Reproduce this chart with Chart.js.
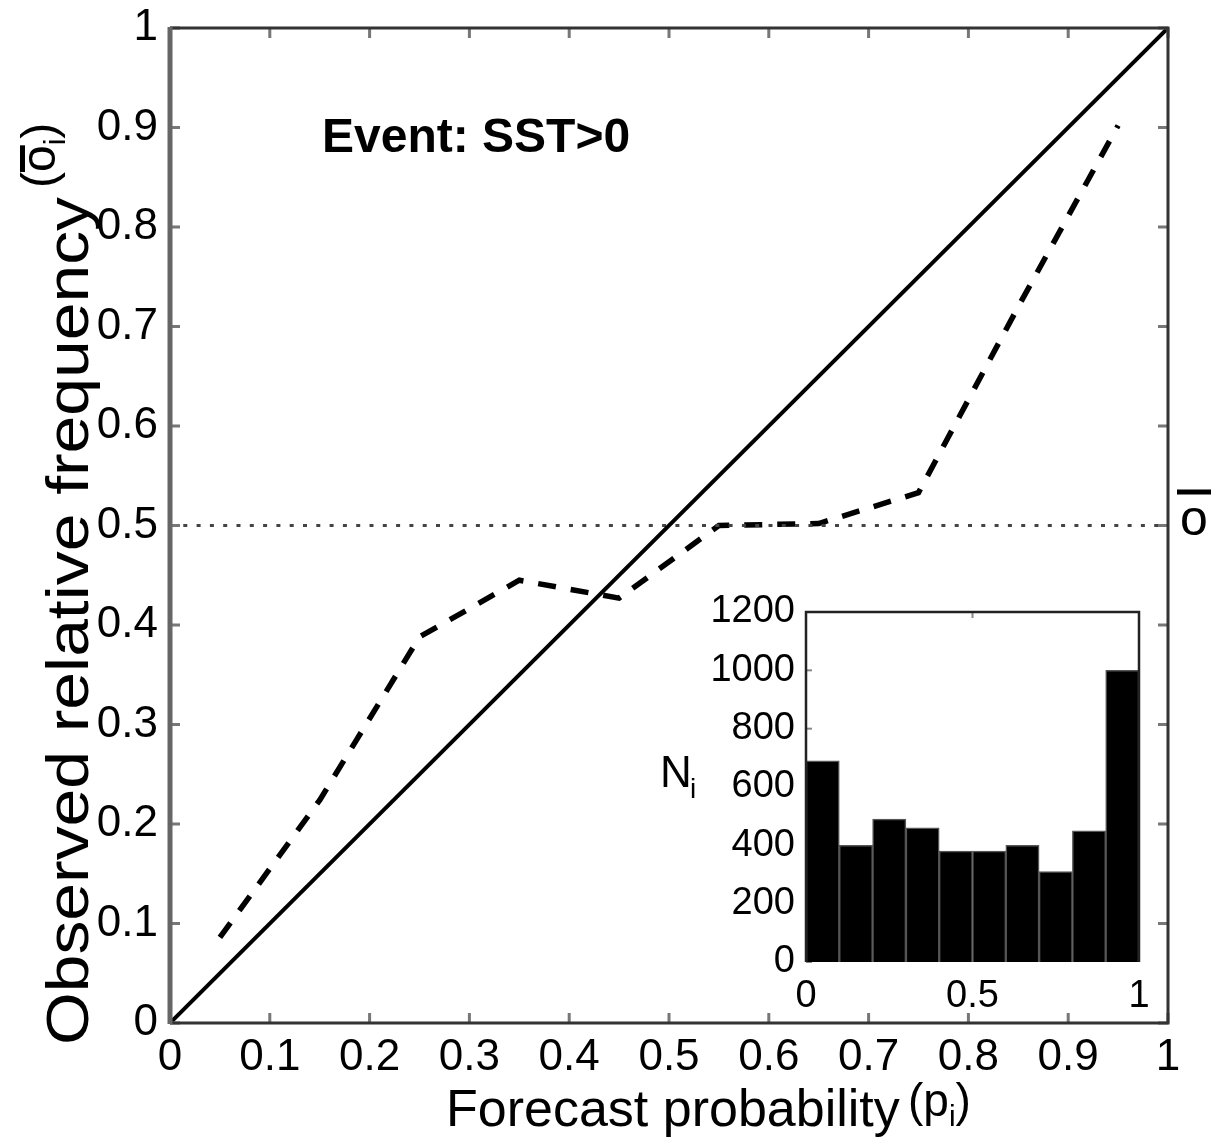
<!DOCTYPE html>
<html>
<head>
<meta charset="utf-8">
<script src="https://cdn.jsdelivr.net/npm/chart.js@4.4.1/dist/chart.umd.min.js"></script>
<style>
  body { margin: 0; background: #fff; }
  #wrap { position: relative; width: 1211px; height: 1139px; }
  #chart-main { position: absolute; left: 0; top: 0; }
  #chart-inset { position: absolute; left: 640px; top: 590px; }
</style>
</head>
<body>
<div id="wrap">
  <canvas id="chart-main" width="1211" height="1139"></canvas>
  <canvas id="chart-inset" width="520" height="440"></canvas>
</div>
<script>
// reliability diagram data
var binCenters = [0.05, 0.15, 0.25, 0.35, 0.45, 0.55, 0.65, 0.75, 0.85, 0.95];
var observedFreq = [0.086, 0.224, 0.388, 0.445, 0.427, 0.5, 0.502, 0.533, 0.72, 0.902];
var climatology = 0.5;
var diagonal = [0, 1];
var binCounts = [690, 400, 490, 460, 380, 380, 400, 310, 450, 1000];

var mainTickLabels = ['0', '0.1', '0.2', '0.3', '0.4', '0.5', '0.6', '0.7', '0.8', '0.9', '1'];
var insetXTickLabels = ['0', '0.5', '1'];
var insetYTickLabels = ['0', '200', '400', '600', '800', '1000', '1200'];

var FONT = '"Liberation Sans", Arial, sans-serif';

// keep the plot box where it is, labels may hang over the edge
function noPad(s) {
    s.paddingTop = 0; s.paddingBottom = 0;
    s.paddingLeft = 0; s.paddingRight = 0;
}

function init() {
    var ctx = document.getElementById('chart-main').getContext('2d');

    var boxAndText = {
        id: 'boxAndText',
        afterDatasetsDraw: function (chart) {
            var c = chart.ctx, a = chart.chartArea;
            var xs = chart.scales.x, ys = chart.scales.y;
            c.save();
            // inward ticks on all four sides
            c.strokeStyle = '#777';
            c.lineWidth = 3;
            xs.ticks.forEach(function (t) {
                var px = xs.getPixelForValue(t.value);
                c.beginPath();
                c.moveTo(px, a.bottom); c.lineTo(px, a.bottom - 10);
                c.moveTo(px, a.top); c.lineTo(px, a.top + 10);
                c.stroke();
            });
            ys.ticks.forEach(function (t) {
                var py = ys.getPixelForValue(t.value);
                c.beginPath();
                c.moveTo(a.left, py); c.lineTo(a.left + 10, py);
                c.moveTo(a.right, py); c.lineTo(a.right - 10, py);
                c.stroke();
            });
            // frame
            c.strokeStyle = '#333';
            c.lineWidth = 3;
            c.beginPath();
            c.moveTo(a.left, a.top); c.lineTo(a.right, a.top);
            c.lineTo(a.right, a.bottom); c.lineTo(a.left, a.bottom);
            c.stroke();
            c.strokeStyle = '#666';
            c.lineWidth = 5;
            c.beginPath();
            c.moveTo(a.left, a.top - 1); c.lineTo(a.left, a.bottom + 1);
            c.stroke();

            c.fillStyle = '#000';
            c.textBaseline = 'alphabetic';
            c.textAlign = 'left';

            // title inside the plot
            c.font = 'bold 48px ' + FONT;
            c.fillText('Event: SST>0', 322, 152);

            // x axis title
            c.font = '52px ' + FONT;
            c.fillText('Forecast probability', 446, 1126);
            c.font = '46px ' + FONT;
            c.fillText('(p', 908, 1116);
            var w = c.measureText('(p').width;
            c.font = '30px ' + FONT;
            c.fillText('i', 908 + w, 1126);
            var wi = c.measureText('i').width;
            c.font = '46px ' + FONT;
            c.fillText(')', 908 + w + wi, 1116);

            // y axis title (rotated, stretched along the text)
            c.save();
            c.translate(88, 1045);
            c.rotate(-Math.PI / 2);
            c.scale(1.13, 1);
            c.font = '60px ' + FONT;
            c.fillText('Observed relative frequency', 0, 0);
            c.restore();

            c.save();
            c.translate(55, 188);
            c.rotate(-Math.PI / 2);
            c.font = '48px ' + FONT;
            c.fillText('(', 0, 0);
            var p0 = c.measureText('(').width;
            c.fillText('o', p0, 0);
            var po = c.measureText('o').width;
            c.fillRect(p0, -35, po, 5);
            c.font = '30px ' + FONT;
            c.fillText('i', p0 + po, 10);
            var pi = c.measureText('i').width;
            c.font = '48px ' + FONT;
            c.fillText(')', p0 + po + pi, 0);
            c.restore();

            // climatology label on the right
            var yc = ys.getPixelForValue(climatology);
            c.font = '50px ' + FONT;
            c.fillText('o', 1180, yc + 9);
            c.fillRect(1177, yc - 36, 34, 5);
            c.restore();
        }
    };

    new Chart(ctx, {
        type: 'scatter',
        data: {
            datasets: [{
                label: 'Perfect reliability',
                data: diagonal.map(function (v) { return { x: v, y: v }; }),
                showLine: true,
                borderColor: '#000',
                borderWidth: 4,
                pointRadius: 0,
                tension: 0
            }, {
                label: 'Climatology',
                data: diagonal.map(function (v) { return { x: v, y: climatology }; }),
                showLine: true,
                borderColor: '#444',
                borderWidth: 3,
                borderDash: [4, 9.3],
                pointRadius: 0
            }, {
                label: 'Observed',
                data: binCenters.map(function (v, i) { return { x: v, y: observedFreq[i] }; }),
                showLine: true,
                borderColor: '#000',
                borderWidth: 5.5,
                borderDash: [18, 15],
                pointRadius: 0,
                tension: 0
            }]
        },
        options: {
            responsive: false,
            animation: false,
            layout: { padding: { top: 28, right: 43, left: 0, bottom: 0 } },
            plugins: {
                legend: { display: false },
                tooltip: { enabled: false }
            },
            scales: {
                x: {
                    type: 'linear',
                    min: 0,
                    max: 1,
                    afterFit: function (s) { s.height = 116; noPad(s); },
                    grid: { display: false, drawTicks: false },
                    border: { display: false },
                    ticks: {
                        stepSize: 0.1,
                        padding: 8,
                        color: '#000',
                        maxRotation: 0,
                        autoSkip: false,
                        font: { size: 44, family: FONT },
                        callback: function (v, i) { return mainTickLabels[i]; }
                    }
                },
                y: {
                    type: 'linear',
                    min: 0,
                    max: 1,
                    afterFit: function (s) { s.width = 170; noPad(s); },
                    grid: { display: false, drawTicks: false },
                    border: { display: false },
                    ticks: {
                        stepSize: 0.1,
                        padding: 12,
                        color: '#000',
                        autoSkip: false,
                        font: { size: 44, family: FONT },
                        callback: function (v, i) { return mainTickLabels[i]; }
                    }
                }
            }
        },
        plugins: [boxAndText]
    });

    // inset histogram of forecast counts
    var ctx2 = document.getElementById('chart-inset').getContext('2d');

    var insetFrame = {
        id: 'insetFrame',
        beforeDatasetsDraw: function (chart) {
            var c = chart.ctx, a = chart.chartArea;
            var ys = chart.scales.y, xs = chart.scales.x;
            c.save();
            c.fillStyle = '#fff';
            c.fillRect(a.left, a.top, a.right - a.left, a.bottom - a.top);
            c.strokeStyle = '#888';
            c.lineWidth = 2;
            ys.ticks.forEach(function (t) {
                var py = ys.getPixelForValue(t.value);
                c.beginPath();
                c.moveTo(a.left, py); c.lineTo(a.left + 6, py);
                c.stroke();
            });
            xs.ticks.forEach(function (t) {
                var px = xs.getPixelForValue(t.value);
                c.beginPath();
                c.moveTo(px, a.top); c.lineTo(px, a.top + 6);
                c.stroke();
            });
            c.restore();
        },
        afterDatasetsDraw: function (chart) {
            var c = chart.ctx, a = chart.chartArea;
            c.save();
            c.strokeStyle = '#222';
            c.lineWidth = 2.5;
            c.beginPath();
            c.moveTo(a.left, a.bottom); c.lineTo(a.left, a.top);
            c.lineTo(a.right, a.top); c.lineTo(a.right, a.bottom);
            c.stroke();
            c.fillStyle = '#000';
            c.font = '44px ' + FONT;
            c.fillText('N', 20, 197);
            c.font = '28px ' + FONT;
            c.fillText('i', 50, 208);
            c.restore();
        }
    };

    new Chart(ctx2, {
        type: 'bar',
        data: {
            datasets: [{
                label: 'N',
                data: binCenters.map(function (v, i) { return { x: v, y: binCounts[i] }; }),
                backgroundColor: '#000',
                borderColor: '#555',
                borderWidth: 1.5,
                barPercentage: 1,
                categoryPercentage: 1
            }]
        },
        options: {
            responsive: false,
            animation: false,
            layout: { padding: { top: 22, right: 21, left: 0, bottom: 0 } },
            plugins: {
                legend: { display: false },
                tooltip: { enabled: false }
            },
            scales: {
                x: {
                    type: 'linear',
                    min: 0,
                    max: 1,
                    offset: false,
                    afterFit: function (s) { s.height = 68; noPad(s); },
                    grid: { display: false, drawTicks: false, offset: false },
                    border: { display: false },
                    ticks: {
                        stepSize: 0.5,
                        padding: 12,
                        color: '#000',
                        maxRotation: 0,
                        autoSkip: false,
                        font: { size: 38, family: FONT },
                        callback: function (v, i) { return insetXTickLabels[i]; }
                    }
                },
                y: {
                    min: 0,
                    max: 1200,
                    afterFit: function (s) { s.width = 166; noPad(s); },
                    grid: { display: false, drawTicks: false },
                    border: { display: false },
                    ticks: {
                        stepSize: 200,
                        padding: 11,
                        color: '#000',
                        autoSkip: false,
                        font: { size: 38, family: FONT },
                        callback: function (v, i) { return insetYTickLabels[i]; }
                    }
                }
            }
        },
        plugins: [insetFrame]
    });
}
init();
</script>
</body>
</html>
